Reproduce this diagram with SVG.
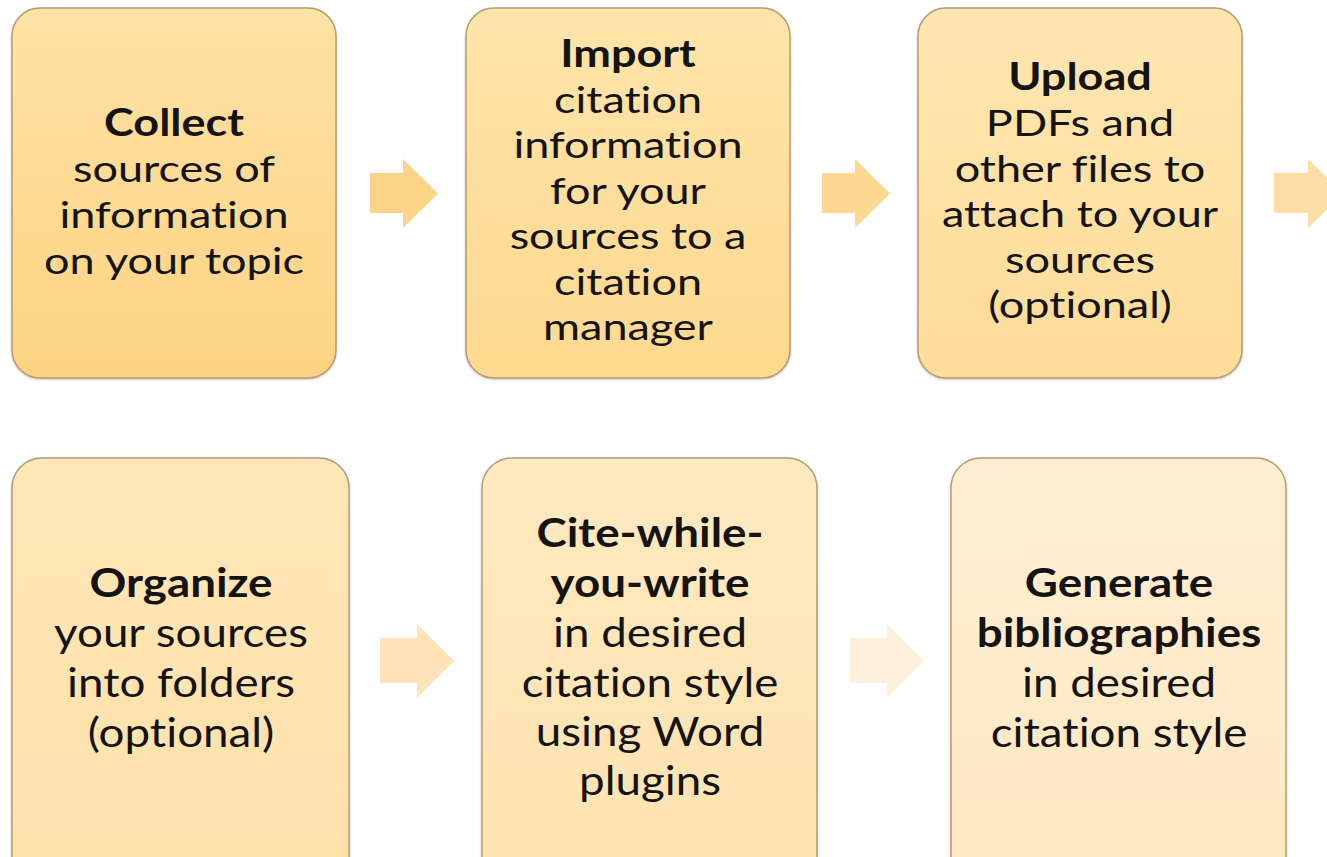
<svg xmlns="http://www.w3.org/2000/svg" width="1327" height="857" viewBox="0 0 1327 857">
<defs>
<linearGradient id="g1" x1="0" y1="0" x2="0" y2="1"><stop offset="0" stop-color="#FFE2A6"/><stop offset="1" stop-color="#FDD382"/></linearGradient>
<linearGradient id="g2" x1="0" y1="0" x2="0" y2="1"><stop offset="0" stop-color="#FFE4AA"/><stop offset="1" stop-color="#FED98F"/></linearGradient>
<linearGradient id="g3" x1="0" y1="0" x2="0" y2="1"><stop offset="0" stop-color="#FFE6B0"/><stop offset="1" stop-color="#FEDC99"/></linearGradient>
<linearGradient id="g4" x1="0" y1="0" x2="0" y2="1"><stop offset="0" stop-color="#FFE7B8"/><stop offset="1" stop-color="#FFE1A9"/></linearGradient>
<linearGradient id="g5" x1="0" y1="0" x2="0" y2="1"><stop offset="0" stop-color="#FFE9C0"/><stop offset="1" stop-color="#FFE3B0"/></linearGradient>
<linearGradient id="g6" x1="0" y1="0" x2="0" y2="1"><stop offset="0" stop-color="#FFEED3"/><stop offset="1" stop-color="#FFE8C2"/></linearGradient>
<filter id="sh" x="-5%" y="-5%" width="110%" height="110%"><feDropShadow dx="0" dy="1" stdDeviation="1.2" flood-color="#7a6440" flood-opacity="0.35"/></filter>
</defs>
<style>
.box{stroke:#B49C74;stroke-width:1.5;filter:url(#sh)}
text{font-family:Lato,"Open Sans","Liberation Sans",sans-serif;fill:#141414;text-anchor:middle;font-variant-ligatures:none;font-feature-settings:"liga" 0}
.r1{font-size:37.5px}
.r2{font-size:41px}
.b{font-weight:bold}
</style>
<rect width="1327" height="857" fill="#FFFFFF"/>
<g id="connectors">
<path d="M370,173 H403 V159 L438,193.5 L403,228 V213 H370 Z" fill="#FDD487"/>
<path d="M822,173 H855 V159 L890,193.5 L855,228 V213 H822 Z" fill="#FED892"/>
<path d="M1274,173 H1308 V159 L1343,193.5 L1308,228 V213 H1274 Z" fill="#FFDDA4"/>
<path d="M380,638 H417 V624 L454,661 L417,698 V683 H380 Z" fill="#FEE2B8"/>
<path d="M850,638 H887 V624 L924,661 L887,698 V683 H850 Z" fill="#FFF0DE"/>
</g>
<g id="node1">
<rect class="box" x="12" y="8" width="324" height="370" rx="28" fill="url(#g1)"/>
<text class="r1" transform="translate(174 0) scale(1.2 1)"><tspan class="b" x="0" y="136">Collect</tspan><tspan x="0" y="182">sources of</tspan><tspan x="0" y="228">information</tspan><tspan x="0" y="274">on your topic</tspan></text>
</g>
<g id="node2">
<rect class="box" x="466" y="8" width="324" height="370" rx="28" fill="url(#g2)"/>
<text class="r1" transform="translate(628 0) scale(1.2 1)"><tspan class="b" x="0" y="67">Import</tspan><tspan x="0" y="113">citation</tspan><tspan x="0" y="158">information</tspan><tspan x="0" y="204">for your</tspan><tspan x="0" y="249">sources to a</tspan><tspan x="0" y="295">citation</tspan><tspan x="0" y="340">manager</tspan></text>
</g>
<g id="node3">
<rect class="box" x="918" y="8" width="324" height="370" rx="28" fill="url(#g3)"/>
<text class="r1" transform="translate(1080 0) scale(1.2 1)"><tspan class="b" x="0" y="90">Upload</tspan><tspan x="0" y="136">PDFs and</tspan><tspan x="0" y="182">other files to</tspan><tspan x="0" y="227">attach to your</tspan><tspan x="0" y="273">sources</tspan><tspan x="0" y="318">(optional)</tspan></text>
</g>
<g id="node4">
<rect class="box" x="12" y="458" width="337" height="430" rx="30" fill="url(#g4)"/>
<text class="r2" transform="translate(181 0) scale(1.115 1)"><tspan class="b" x="0" y="597">Organize</tspan><tspan x="0" y="647">your sources</tspan><tspan x="0" y="697">into folders</tspan><tspan x="0" y="747">(optional)</tspan></text>
</g>
<g id="node5">
<rect class="box" x="482" y="458" width="335" height="430" rx="30" fill="url(#g5)"/>
<text class="r2" transform="translate(650 0) scale(1.115 1)"><tspan class="b" x="0" y="547">Cite-while-</tspan><tspan class="b" x="0" y="597">you-write</tspan><tspan x="0" y="647">in desired</tspan><tspan x="0" y="697">citation style</tspan><tspan x="0" y="746">using Word</tspan><tspan x="0" y="795">plugins</tspan></text>
</g>
<g id="node6">
<rect class="box" x="951" y="458" width="335" height="430" rx="30" fill="url(#g6)"/>
<text class="r2" transform="translate(1119 0) scale(1.115 1)"><tspan class="b" x="0" y="597">Generate</tspan><tspan class="b" x="0" y="647">bibliographies</tspan><tspan x="0" y="697">in desired</tspan><tspan x="0" y="747">citation style</tspan></text>
</g>
</svg>
